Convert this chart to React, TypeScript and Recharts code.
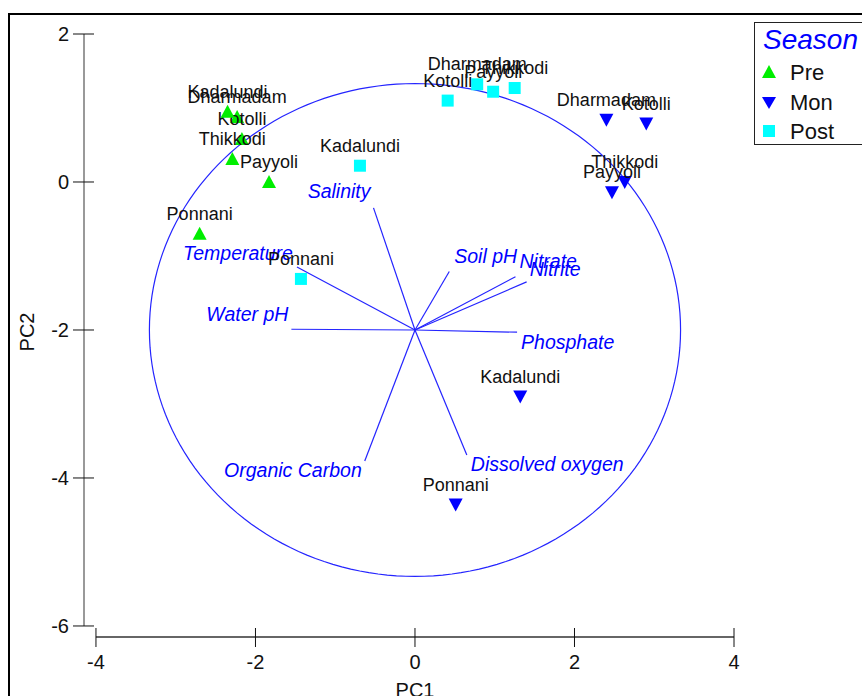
import React from "react";
import { ScatterChart, Scatter, XAxis, YAxis, ReferenceLine, Label } from "recharts";

// site order is the same for every season
const sites = ["Dharmadam", "Kotolli", "Thikkodi", "Payyoli", "Kadalundi", "Ponnani"];

const prePC1 = [-2.23, -2.17, -2.29, -1.83, -2.35, -2.7];
const prePC2 = [0.88, 0.58, 0.31, 0.0, 0.95, -0.7];
const monPC1 = [2.4, 2.9, 2.63, 2.47, 1.32, 0.51];
const monPC2 = [0.84, 0.79, 0.0, -0.14, -2.9, -4.36];
const postPC1 = [0.78, 0.41, 1.25, 0.98, -0.69, -1.43];
const postPC2 = [1.32, 1.1, 1.27, 1.22, 0.22, -1.31];

// variable vectors (tip positions in the biplot)
const variables = [
  "Salinity",
  "Temperature",
  "Water pH",
  "Soil pH",
  "Nitrate",
  "Nitrite",
  "Phosphate",
  "Organic Carbon",
  "Dissolved oxygen",
];
const vecPC1 = [-0.52, -1.48, -1.55, 0.43, 1.26, 1.4, 1.28, -0.63, 0.65];
const vecPC2 = [-0.35, -1.15, -1.99, -1.21, -1.28, -1.35, -2.03, -3.77, -3.69];

const origin = { x: 0, y: -2 };
const circleRadius = 3.33;

const xTicks = [-4, -2, 0, 2, 4];
const yTicks = [-6, -4, -2, 0, 2];

const FONT = "'Liberation Sans', Arial, Helvetica, sans-serif";
const GREEN = "#00ee00";
const BLUE = "#0000ff";
const CYAN = "#00ffff";
const LINE = "#2424ff";

const toPoints = (xs: number[], ys: number[]) =>
  sites.map((name, i) => ({ name, x: xs[i], y: ys[i] }));

const preData = toPoints(prePC1, prePC2);
const monData = toPoints(monPC1, monPC2);
const postData = toPoints(postPC1, postPC2);
const vectorData = variables.map((name, i) => ({ name, x: vecPC1[i], y: vecPC2[i] }));

// closed outline of the circle around the biplot origin
const circleData = Array.from({ length: 181 }, (_, i) => {
  const a = (i / 180) * 2 * Math.PI;
  return { x: origin.x + circleRadius * Math.cos(a), y: origin.y + circleRadius * Math.sin(a) };
});

// label placement relative to vector tip: [dx, dy, anchor]
const vecLabel: Record<string, [number, number, string]> = {
  Salinity: [-3, -10, "end"],
  Temperature: [-4, -7, "end"],
  "Water pH": [-3, -8, "end"],
  "Soil pH": [5, -9, "start"],
  Nitrate: [4, -9, "start"],
  Nitrite: [3, -6, "start"],
  Phosphate: [4, 17, "start"],
  "Organic Carbon": [-3, 16, "end"],
  "Dissolved oxygen": [4, 16, "start"],
};

const SiteLabel = ({ cx, cy, name }: any) => (
  <text x={cx} y={cy - 14} textAnchor="middle" fontSize={18} fontFamily={FONT} fill="#111">
    {name}
  </text>
);

const UpTriangle = (props: any) => {
  const { cx, cy, payload } = props;
  return (
    <g>
      <polygon points={`${cx},${cy - 7} ${cx - 7},${cy + 6} ${cx + 7},${cy + 6}`} fill={GREEN} />
      <SiteLabel cx={cx} cy={cy} name={payload.name} />
    </g>
  );
};

const DownTriangle = (props: any) => {
  const { cx, cy, payload } = props;
  return (
    <g>
      <polygon points={`${cx - 7},${cy - 6} ${cx + 7},${cy - 6} ${cx},${cy + 7}`} fill={BLUE} />
      <SiteLabel cx={cx} cy={cy} name={payload.name} />
    </g>
  );
};

const Square = (props: any) => {
  const { cx, cy, payload } = props;
  return (
    <g>
      <rect x={cx - 6} y={cy - 6} width={12} height={12} fill={CYAN} />
      <SiteLabel cx={cx} cy={cy} name={payload.name} />
    </g>
  );
};

const VectorLabel = (props: any) => {
  const { cx, cy, payload } = props;
  const [dx, dy, anchor] = vecLabel[payload.name];
  return (
    <text
      x={cx + dx}
      y={cy + dy}
      textAnchor={anchor}
      fontSize={19.5}
      fontStyle="italic"
      fontFamily={FONT}
      fill={BLUE}
    >
      {payload.name}
    </text>
  );
};

const XTick = ({ x, y, payload }: any) => (
  <g>
    <line x1={x} x2={x} y1={y - 9} y2={y + 10} stroke="#111" />
    <text x={x} y={y + 32} textAnchor="middle" fontSize={20} fontFamily={FONT} fill="#111">
      {payload.value}
    </text>
  </g>
);

const YTick = ({ x, y, payload }: any) => (
  <g>
    <line x1={x - 11} x2={x + 10} y1={y} y2={y} stroke="#111" />
    <text x={x - 15} y={y + 7} textAnchor="end" fontSize={20} fontFamily={FONT} fill="#111">
      {payload.value}
    </text>
  </g>
);

const SeasonLegend = () => (
  <div
    style={{
      position: "absolute",
      left: 754,
      top: 22,
      width: 120,
      height: 123,
      border: "1px solid #222",
      background: "#fff",
      boxSizing: "border-box",
    }}
  >
    <svg width={120} height={123} style={{ display: "block" }}>
      <text x={8} y={26} fontSize={28} fontStyle="italic" fontFamily={FONT} fill={BLUE}>
        Season
      </text>
      <polygon points="14,42 7,55 21,55" fill={GREEN} />
      <text x={35} y={57} fontSize={22} fontFamily={FONT} fill="#111">
        Pre
      </text>
      <polygon points="7,74 21,74 14,86" fill={BLUE} />
      <text x={35} y={87} fontSize={22} fontFamily={FONT} fill="#111">
        Mon
      </text>
      <rect x={8} y={102} width={12} height={12} fill={CYAN} />
      <text x={35} y={116} fontSize={22} fontFamily={FONT} fill="#111">
        Post
      </text>
    </svg>
  </div>
);

export default function App() {
  return (
    <div
      style={{
        position: "absolute",
        left: 0,
        top: 0,
        width: 862,
        height: 696,
        background: "#fff",
        overflow: "hidden",
      }}
    >
      <div
        style={{
          position: "absolute",
          left: 8,
          top: 13,
          width: 900,
          height: 700,
          borderLeft: "2px solid #000",
          borderTop: "2px solid #000",
        }}
      />
      <div style={{ position: "absolute", left: 0, top: 0 }}>
        <ScatterChart width={862} height={696} margin={{ top: 34, right: 128, bottom: 0, left: 8 }}>
          <XAxis
            type="number"
            dataKey="x"
            domain={[-4.15, 4]}
            allowDataOverflow
            ticks={xTicks}
            tick={<XTick />}
            tickLine={false}
            axisLine={false}
            tickSize={0}
            tickMargin={0}
            height={59}
          >
            <Label
              content={() => (
                <text x={415} y={697} textAnchor="middle" fontSize={20} fontFamily={FONT} fill="#111">
                  PC1
                </text>
              )}
            />
          </XAxis>
          <YAxis
            type="number"
            dataKey="y"
            domain={[-6.149, 2]}
            allowDataOverflow
            ticks={yTicks}
            tick={<YTick />}
            tickLine={false}
            axisLine={false}
            tickSize={0}
            tickMargin={0}
            width={76}
          >
            <Label
              content={() => (
                <text
                  x={34}
                  y={332}
                  transform="rotate(-90 34 332)"
                  textAnchor="middle"
                  fontSize={20}
                  fontFamily={FONT}
                  fill="#111"
                >
                  PC2
                </text>
              )}
            />
          </YAxis>
          <ReferenceLine
            segment={[
              { x: -4, y: -6.149 },
              { x: 4, y: -6.149 },
            ]}
            stroke="#666"
            strokeWidth={2}
            ifOverflow="visible"
          />
          <ReferenceLine
            segment={[
              { x: -4.15, y: -6 },
              { x: -4.15, y: 2 },
            ]}
            stroke="#555"
            strokeWidth={1.2}
            ifOverflow="visible"
          />
          {vectorData.map((v) => (
            <ReferenceLine
              key={v.name}
              segment={[origin, { x: v.x, y: v.y }]}
              stroke={LINE}
              strokeWidth={1.2}
              ifOverflow="visible"
            />
          ))}
          <Scatter
            name="circle"
            data={circleData}
            line={{ stroke: LINE, strokeWidth: 1.2 }}
            lineType="joint"
            shape={() => <g />}
            legendType="none"
            isAnimationActive={false}
          />
          <Scatter name="vectors" data={vectorData} shape={<VectorLabel />} isAnimationActive={false} />
          <Scatter name="Pre" data={preData} shape={<UpTriangle />} isAnimationActive={false} />
          <Scatter name="Mon" data={monData} shape={<DownTriangle />} isAnimationActive={false} />
          <Scatter name="Post" data={postData} shape={<Square />} isAnimationActive={false} />
        </ScatterChart>
      </div>
      <SeasonLegend />
    </div>
  );
}
